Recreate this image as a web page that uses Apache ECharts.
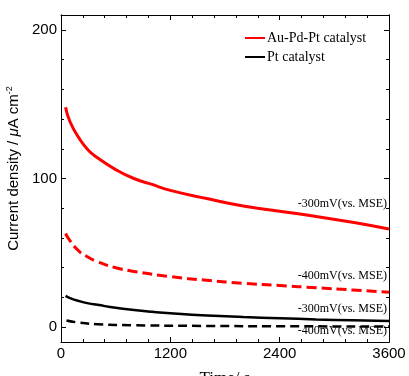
<!DOCTYPE html>
<html><head><meta charset="utf-8">
<script src="https://cdn.jsdelivr.net/npm/echarts@6/dist/echarts.min.js"></script>
<style>html,body{margin:0;padding:0;background:#fff}#c{width:409px;height:376px}</style>
</head><body><div id="c"></div>
<script>
// Time (s)
const tRedSolid = [50,100,200,300,400,600,800,1000,1200,1600,2000,2400,2800,3200,3600];
const vRedSolid = [148,138,127,119,114,106,100,96,92,86.5,81.5,78,74.5,70.5,66];
const tRedDash = [50,100,200,300,400,600,800,1200,1600,2000,2400,2800,3200,3600];
const vRedDash = [63,58,51,47,44,40,37.5,34,31.5,29.5,28,26.5,25,23.5];
const tBlackSolid = [50,100,200,300,400,600,800,1000,1200,1600,2000,2400,2800,3200,3600];
const vBlackSolid = [21,19.5,17.5,16,15,13,11.5,10.3,9.3,7.8,6.8,6,5.2,4.6,4.2];
const tBlackDash = [60,200,400,800,1600,2400,3600];
const vBlackDash = [4.5,3,2,1.3,0.8,0.6,0.4];
const yMajor = [0,100,200];
const yMinor = [20,40,60,80,120,140,160,180];
const annotations = [
  {text:'-300mV(vs. MSE)', y:205},
  {text:'-400mV(vs. MSE)', y:277},
  {text:'-300mV(vs. MSE)', y:310},
  {text:'-400mV(vs. MSE)', y:332}
];

const zip = (a,b)=>a.map((x,i)=>[x,b[i]]);
const serif = 'Liberation Serif';
const sans = 'Liberation Sans';
const chart = echarts.init(document.getElementById('c'));

function yAx(pos, vals, len, labels, name){
  return {
    type:'value', position:pos, min:-10, max:210,
    axisLine:{show:true, onZero:false, lineStyle:{color:'#000', width:1}},
    splitLine:{show:false},
    axisTick:{show:true, inside:true, length:len, customValues:vals, lineStyle:{color:'#000'}},
    axisLabel:{show:labels, customValues:vals, color:'#000', fontFamily:sans, fontSize:15, margin:4},
    name: name||'', nameLocation:'middle', nameGap:38, nameRotate:90,
    nameTextStyle:{color:'#000', fontFamily:sans, fontSize:15, padding:[0,0,0,20],
      rich:{i:{fontStyle:'italic', fontFamily:sans, fontSize:15}, sup:{fontSize:9, verticalAlign:'top', fontFamily:sans, padding:[0,0,8,0]}}}
  };
}
function xAx(pos, labels, name){
  return {
    type:'value', position:pos, min:0, max:3600, interval:1200,
    axisLine:{show:true, onZero:false, lineStyle:{color:'#000', width:1}},
    splitLine:{show:false},
    axisTick:{show:true, inside:true, length:5, lineStyle:{color:'#000'}},
    minorTick:{show:true, splitNumber:5, length:3, lineStyle:{color:'#000'}},
    axisLabel:{show:labels, color:'#000', fontFamily:sans, fontSize:15, margin:4, formatter:v=>String(v)},
    name:name||'', nameLocation:'middle', nameGap:28,
    nameTextStyle:{color:'#000', fontFamily:serif, fontSize:17}
  };
}

chart.setOption({
  animation:false,
  grid:{left:61, right:20, top:15, bottom:34, containLabel:false, outerBoundsMode:'none'},
  xAxis:[xAx('bottom', true, 'Time/ s'), xAx('top', false)],
  yAxis:[
    yAx('left', yMajor, 5, true, 'Current density / {i|μ}A cm{sup|-2}'),
    yAx('right', yMajor, 5, false),
    yAx('left', yMinor, 3, false),
    yAx('right', yMinor, 3, false)
  ],
  legend:{
    data:['Au-Pd-Pt catalyst','Pt catalyst'],
    orient:'vertical', left:240, top:26, itemWidth:20, itemHeight:2, itemGap:5,
    icon:'rect',
    textStyle:{color:'#000', fontFamily:serif, fontSize:14, padding:[0,0,0,-3]}
  },
  graphic: annotations.map(a=>({
    type:'text', right:22, top:a.y-7, z:100,
    style:{text:a.text, fill:'#000', font:'12px "Liberation Serif"', textAlign:'right'}
  })),
  series:[
    {name:'Au-Pd-Pt catalyst', type:'line', data:zip(tRedSolid,vRedSolid), smooth:true, showSymbol:false,
     lineStyle:{color:'#ff0000', width:3}, itemStyle:{color:'#ff0000'}},
    {name:'Au-Pd-Pt -400', type:'line', data:zip(tRedDash,vRedDash), smooth:true, showSymbol:false,
     lineStyle:{color:'#ff0000', width:3, type:[10,5]}, itemStyle:{color:'#ff0000'}},
    {name:'Pt catalyst', type:'line', data:zip(tBlackSolid,vBlackSolid), smooth:true, showSymbol:false,
     lineStyle:{color:'#000', width:2.5}, itemStyle:{color:'#000'}},
    {name:'Pt -400', type:'line', data:zip(tBlackDash,vBlackDash), smooth:true, showSymbol:false,
     lineStyle:{color:'#000', width:2.5, type:[9,5]}, itemStyle:{color:'#000'}}
  ]
});
</script></body></html>
